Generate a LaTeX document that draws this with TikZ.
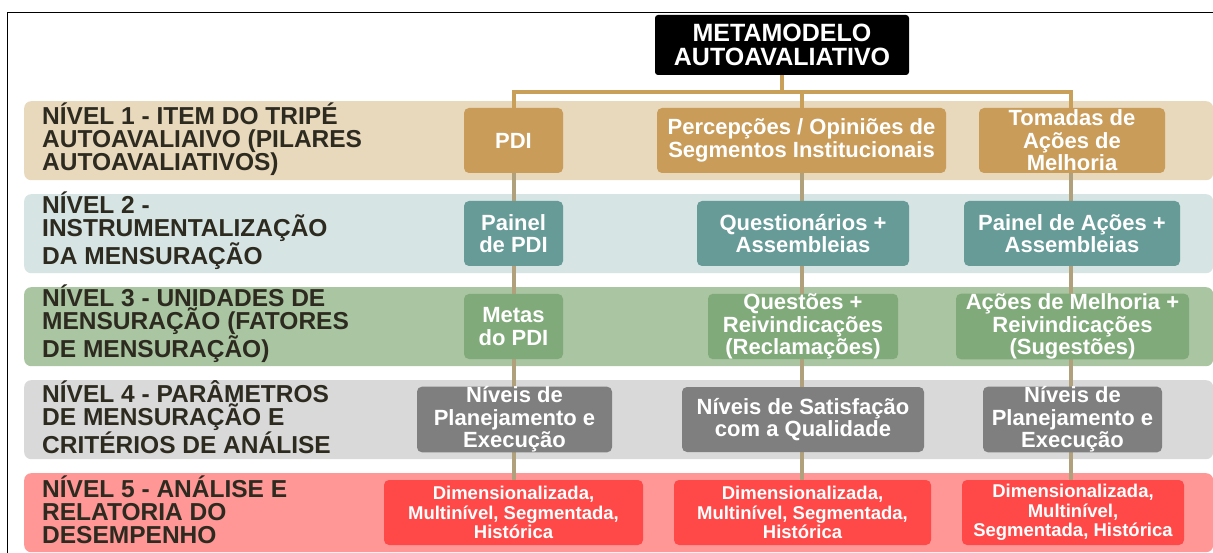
\documentclass[tikz,border=0pt]{standalone}
\usepackage{fontspec}
\setmainfont{Liberation Sans}
\definecolor{bandA}{HTML}{E8D8BC}
\definecolor{bandB}{HTML}{D6E4E4}
\definecolor{bandC}{HTML}{A9C5A1}
\definecolor{bandD}{HTML}{D9D9D9}
\definecolor{bandE}{HTML}{FF9797}
\definecolor{boxA}{HTML}{C99C5A}
\definecolor{boxB}{HTML}{669B98}
\definecolor{boxC}{HTML}{81AA7A}
\definecolor{boxD}{HTML}{7F7F7F}
\definecolor{boxE}{HTML}{FF4848}
\definecolor{lbltext}{HTML}{2D2A1F}
\definecolor{topline}{HTML}{C9A05A}
\definecolor{vline}{HTML}{B0A17C}
\pgfdeclarelayer{bglayer}
\pgfdeclarelayer{midlayer}
\pgfsetlayers{bglayer,midlayer,main}
\begin{document}
\begin{tikzpicture}[x=1pt,y=-1pt,
  band/.style={rounded corners=7pt,inner sep=0pt,anchor=north west,minimum width=1189pt,minimum height=79pt},
  lbl/.style={anchor=west,align=left,text=lbltext,font=\fontsize{24.5}{23}\selectfont\bfseries,inner sep=0pt},
  bx/.style={rounded corners=5pt,inner sep=0pt,text=white,align=center,minimum height=65pt,font=\fontsize{22}{22.5}\selectfont\bfseries},
  sbx/.style={bx,font=\fontsize{18.5}{19.3}\selectfont\bfseries},
  conn/.style={draw=vline,line width=3.5pt},
  tconn/.style={draw=topline,line width=4pt}]
\useasboundingbox (0,0) rectangle (1213,553);
\begin{pgfonlayer}{bglayer}
\fill[white] (0,0) rectangle (1213,553);
\draw[line width=1pt] (7,560) -- (7,13) -- (1220,13);
\node[band,fill=bandA] (bandA) at (24,101) {};
\node[band,fill=bandB] (bandB) at (24,194) {};
\node[band,fill=bandC] (bandC) at (24,287) {};
\node[band,fill=bandD] (bandD) at (24,380) {};
\node[band,fill=bandE] (bandE) at (24,473) {};
\end{pgfonlayer}
% labels
\node[lbl] (lA) at (42,139) {NÍVEL 1 - ITEM DO TRIPÉ\\AUTOAVALIAIVO (PILARES\\AUTOAVALIATIVOS)};
\node[lbl] (lB) at (42,231) {NÍVEL 2 -\\INSTRUMENTALIZAÇÃO\\DA MENSURAÇÃO};
\node[lbl] (lC) at (42,324) {NÍVEL 3 - UNIDADES DE\\MENSURAÇÃO (FATORES\\DE MENSURAÇÃO)};
\node[lbl] (lD) at (42,417) {NÍVEL 4 - PARÂMETROS\\DE MENSURAÇÃO E\\CRITÉRIOS DE ANÁLISE};
\node[lbl] (lE) at (42,510) {NÍVEL 5 - ANÁLISE E\\RELATORIA DO\\DESEMPENHO};
% title
\node[bx,fill=black,minimum width=254pt,minimum height=60pt,rounded corners=3pt,font=\fontsize{25}{24}\selectfont\bfseries] (title) at (782,45) {METAMODELO\\AUTOAVALIATIVO};
% level 1
\node[bx,fill=boxA,minimum width=99pt] (a1) at (513.5,140.5) {PDI};
\node[bx,fill=boxA,minimum width=289pt] (a2) at (801.5,140.5) {Percepções / Opiniões de\\Segmentos Institucionais};
\node[bx,fill=boxA,minimum width=186pt] (a3) at (1072,140.5) {Tomadas de\\Ações de\\Melhoria};
% level 2
\node[bx,fill=boxB,minimum width=99pt] (b1) at (513.5,233.5) {Painel\\de PDI};
\node[bx,fill=boxB,minimum width=212pt] (b2) at (803,233.5) {Questionários +\\Assembleias};
\node[bx,fill=boxB,minimum width=216pt] (b3) at (1072,233.5) {Painel de Ações +\\Assembleias};
% level 3
\node[bx,fill=boxC,minimum width=99pt] (c1) at (513.5,326.5) {Metas\\do PDI};
\node[bx,fill=boxC,minimum width=190pt] (c2) at (803,326.5) {Questões +\\Reivindicações\\(Reclamações)};
\node[bx,fill=boxC,minimum width=233pt] (c3) at (1072.5,326.5) {Ações de Melhoria +\\Reivindicações\\(Sugestões)};
% level 4
\node[bx,fill=boxD,minimum width=195pt] (d1) at (514.5,419.5) {Níveis de\\Planejamento e\\Execução};
\node[bx,fill=boxD,minimum width=242pt] (d2) at (803,419.5) {Níveis de Satisfação\\com a Qualidade};
\node[bx,fill=boxD,minimum width=179pt] (d3) at (1072.5,419.5) {Níveis de\\Planejamento e\\Execução};
% level 5
\node[sbx,fill=boxE,minimum width=259pt] (e1) at (513.5,512.5) {Dimensionalizada,\\Multinível, Segmentada,\\Histórica};
\node[sbx,fill=boxE,minimum width=257pt] (e2) at (802.5,512.5) {Dimensionalizada,\\Multinível, Segmentada,\\Histórica};
\node[sbx,fill=boxE,minimum width=222pt] (e3) at (1073,512.5) {Dimensionalizada,\\Multinível,\\Segmentada, Histórica};
% connectors
\begin{pgfonlayer}{midlayer}
\coordinate (j) at (782,92);
\draw[tconn] (title.south) -- (j);
\draw[tconn] (a1.north -| 514,0) |- (j);
\draw[tconn] (a3.north -| 1071,0) |- (j);
\draw[tconn] (a2.north -| 802,0) -- (802,92);
\foreach \u/\v in {a1/b1,b1/c1,c1/d1,d1/e1}{\draw[conn] (\u.center -| 514,0) -- (\v.center -| 514,0);}
\foreach \u/\v in {a2/b2,b2/c2,c2/d2,d2/e2}{\draw[conn] (\u.center -| 802,0) -- (\v.center -| 802,0);}
\foreach \u/\v in {a3/b3,b3/c3,c3/d3,d3/e3}{\draw[conn] (\u.center -| 1071,0) -- (\v.center -| 1071,0);}
\end{pgfonlayer}
\end{tikzpicture}
\end{document}
